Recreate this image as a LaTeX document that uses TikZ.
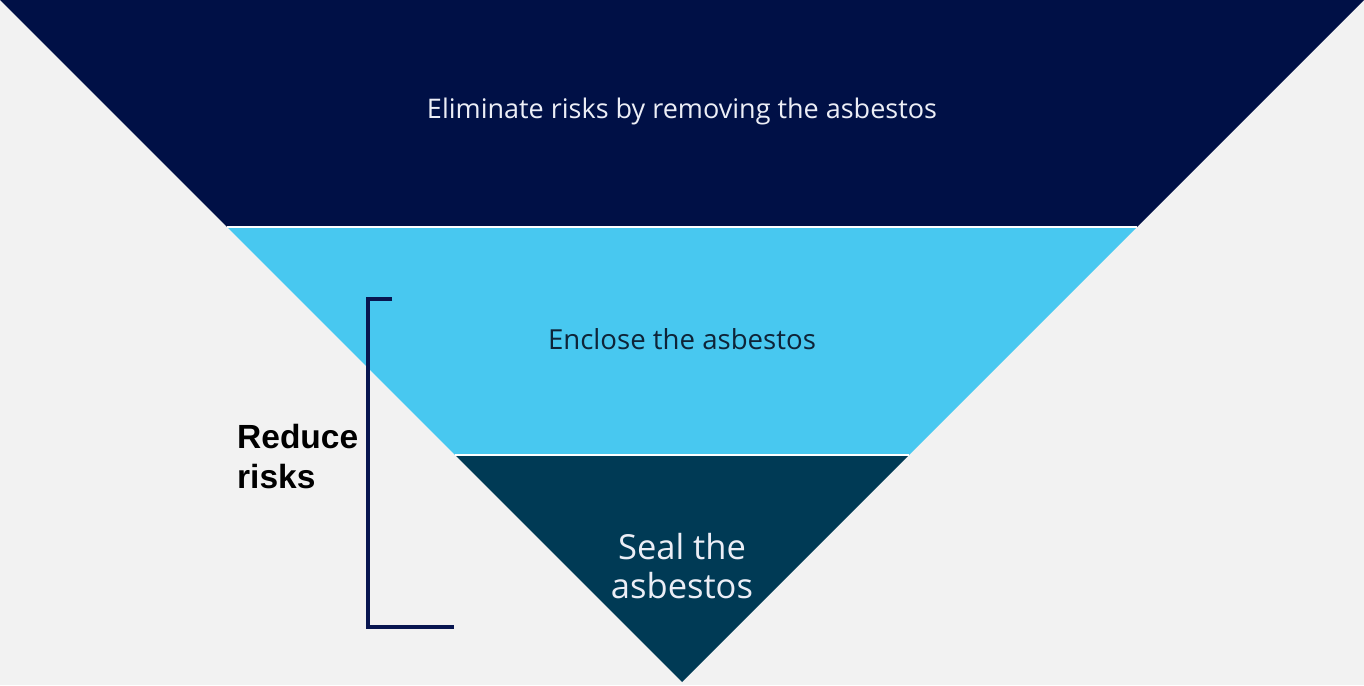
\documentclass[tikz,border=0pt]{standalone}
\usepackage{fontspec}
\setmainfont{Open Sans}
\newfontfamily\arialfont{Liberation Sans}
\definecolor{bgc}{RGB}{242,242,242}
\definecolor{navyc}{RGB}{0,16,70}
\definecolor{bluec}{RGB}{72,200,240}
\definecolor{tealc}{RGB}{0,58,85}
\definecolor{bracketc}{RGB}{8,22,80}
\definecolor{darktxt}{RGB}{14,36,56}
\definecolor{lighttxt}{RGB}{236,238,246}
\begin{document}
\begin{tikzpicture}[x=1pt,y=-1pt,
  bandtext/.style={align=center,inner sep=0pt},
  bracketline/.style={draw=bracketc,line width=3.5pt,line cap=butt,line join=miter}]
\fill[bgc] (0,0) rectangle (1364,685);
\useasboundingbox (0,0) rectangle (1364,685);
% coordinates
\coordinate (tl) at (0,0);
\coordinate (tr) at (1364,0);
\coordinate (ml) at (227,227);
\coordinate (mr) at (1137,227);
\coordinate (ll) at (455,455);
\coordinate (lr) at (909,455);
\coordinate (apex) at (682,682);
% bands
\fill[navyc] (tl) -- (tr) -- (mr) -- (ml) -- cycle;
\fill[bluec] (ml) -- (mr) -- (lr) -- (ll) -- cycle;
\fill[tealc] (ll) -- (lr) -- (apex) -- cycle;
\draw[white,line width=1.2pt] (ml) -- (mr);
\draw[white,line width=1.2pt] (ll) -- (lr);
% texts
\node[bandtext,text=lighttxt,font=\fontsize{27}{32}\selectfont] (t1) at (682,111) {Eliminate risks by removing the asbestos};
\node[bandtext,text=darktxt,font=\fontsize{27.6}{32}\selectfont] (t2) at (682,339) {Enclose the asbestos};
\node[bandtext,text=lighttxt,font=\fontsize{34.5}{39}\selectfont] (t3) at (682,566) {Seal the\\asbestos};
\node[anchor=west,align=left,inner sep=0pt,font=\arialfont\bfseries\fontsize{33.5}{40}\selectfont] (red) at (237,457) {Reduce\\risks};
% bracket
\coordinate (btop) at (392,299);
\coordinate (bcorner1) at (368,299);
\coordinate (bcorner2) at (368,627);
\coordinate (bbot) at (454,627);
\draw[bracketline] (btop) -- (bcorner1) -- (bcorner2) -- (bbot);
\end{tikzpicture}
\end{document}
